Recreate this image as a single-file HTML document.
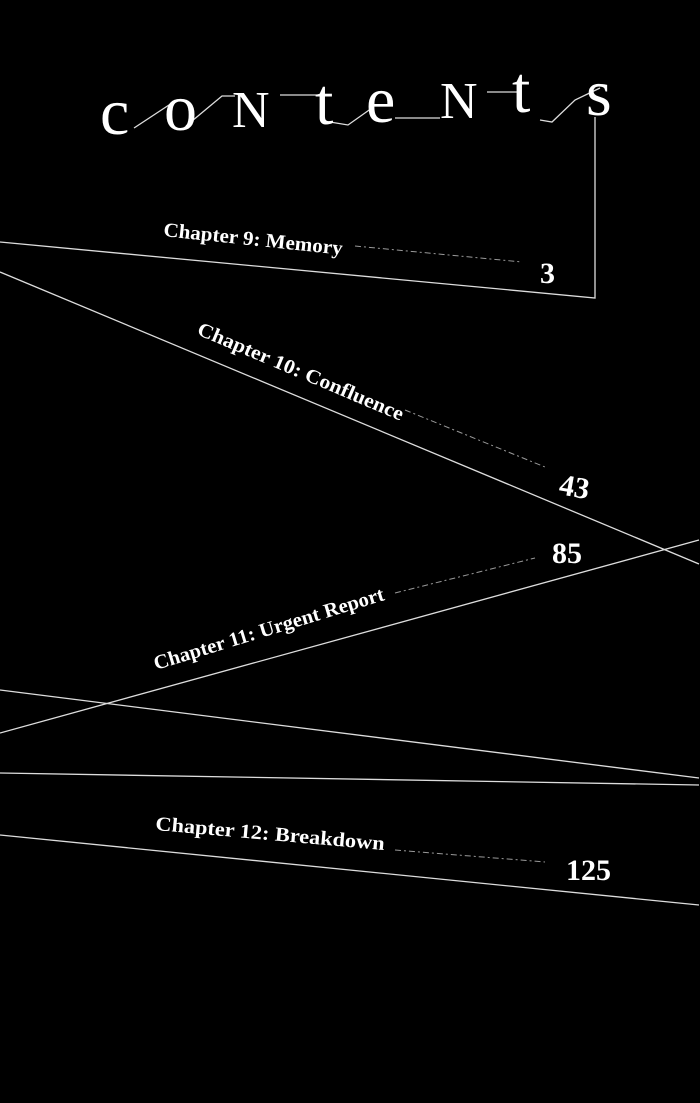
<!DOCTYPE html>
<html><head><meta charset="utf-8"><style>
html,body{margin:0;padding:0;background:#000;}
svg{display:block}
text{fill:#fff;font-family:"Liberation Serif",serif;}
</style></head><body>
<svg width="700" height="1103" viewBox="0 0 700 1103" xmlns="http://www.w3.org/2000/svg">
<rect width="700" height="1103" fill="#000"/>
<g stroke="#ddd" stroke-width="1.3" fill="none">
<polyline points="0,242 595,298 595,117"/>
<line x1="0" y1="272" x2="699" y2="564"/>
<line x1="0" y1="733" x2="699" y2="540"/>
<line x1="0" y1="690" x2="699" y2="778"/>
<line x1="0" y1="773" x2="699" y2="785"/>
<line x1="0" y1="835" x2="699" y2="905"/>
<polyline points="134,128 172,103"/>
<polyline points="186,126 222,96 235,96"/>
<polyline points="280,95 320,95"/>
<polyline points="330,122 348,125 372,108"/>
<polyline points="395,118 440,118"/>
<polyline points="487,92 520,92"/>
<polyline points="540,120 552,122 575,100 600,88"/>
</g>
<g stroke="#999" stroke-width="1" stroke-dasharray="6,3,2,3" fill="none">
<line x1="355" y1="246" x2="522" y2="262"/>
<line x1="405" y1="410" x2="545" y2="467"/>
<line x1="395" y1="593" x2="535" y2="558"/>
<line x1="395" y1="850" x2="545" y2="862"/>
</g>
<g font-size="66">
<text x="100" y="134">c</text>
<text x="164" y="130">o</text>
<text x="232" y="127" font-size="52">N</text>
<text x="315" y="124">t</text>
<text x="366" y="122">e</text>
<text x="440" y="118" font-size="52">N</text>
<text x="512" y="112">t</text>
<text x="586" y="115">s</text>
</g>
<g font-weight="bold" font-size="20">
<text x="163" y="236" textLength="180" lengthAdjust="spacingAndGlyphs" transform="rotate(6 163 236)">Chapter 9: Memory</text>
<text x="196" y="334" textLength="222" lengthAdjust="spacingAndGlyphs" transform="rotate(23 196 334)">Chapter 10: Confluence</text>
<text x="156" y="670" textLength="240" lengthAdjust="spacingAndGlyphs" transform="rotate(-17 156 670)">Chapter 11: Urgent Report</text>
<text x="155" y="830" textLength="230" lengthAdjust="spacingAndGlyphs" transform="rotate(5 155 830)">Chapter 12: Breakdown</text>
</g>
<g font-weight="bold" font-size="30">
<text x="540" y="283">3</text>
<text x="558" y="494" transform="rotate(10 558 494)">43</text>
<text x="552" y="563">85</text>
<text x="566" y="880">125</text>
</g>
</svg>
</body></html>
